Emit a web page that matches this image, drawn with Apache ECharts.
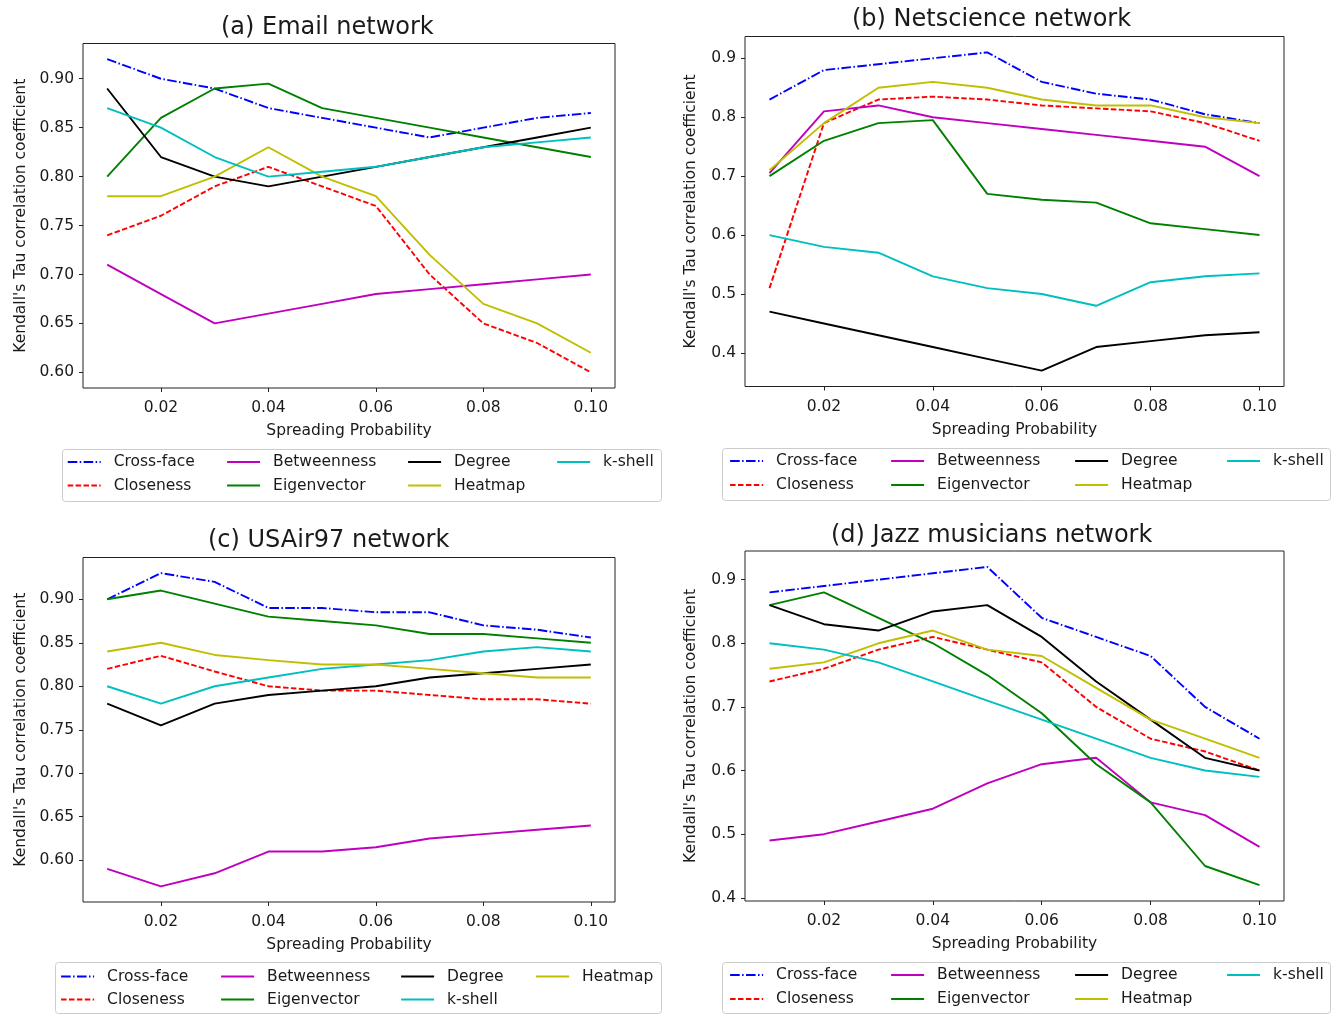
<!DOCTYPE html>
<html>
<head>
<meta charset="utf-8">
<script src="https://cdn.jsdelivr.net/npm/echarts@6/dist/echarts.min.js"></script>
<style>
html,body{margin:0;padding:0;background:#fff;}
#chart{width:1339px;height:1014px;}
</style>
</head>
<body>
<div id="chart"></div>
<script>
// ---------- data ----------
const xValues = [0.01,0.02,0.03,0.04,0.05,0.06,0.07,0.08,0.09,0.10];
const xTicks = [0.02,0.04,0.06,0.08,0.10];
const yTicksEmail = [0.60,0.65,0.70,0.75,0.80,0.85,0.90];
const yTicksNet = [0.4,0.5,0.6,0.7,0.8,0.9];
const yTicksAir = [0.60,0.65,0.70,0.75,0.80,0.85,0.90];
const yTicksJazz = [0.4,0.5,0.6,0.7,0.8,0.9];

const panelTitles = ['(a) Email network','(b) Netscience network','(c) USAir97 network','(d) Jazz musicians network'];
const xAxisName = 'Spreading Probability';
const yAxisName = "Kendall's Tau correlation coefficient";

// (a) Email network
const emailCrossFace   = [0.92,0.90,0.89,0.87,0.86,0.85,0.84,0.85,0.86,0.865];
const emailCloseness   = [0.74,0.76,0.79,0.81,0.79,0.77,0.70,0.65,0.63,0.60];
const emailBetweenness = [0.71,0.68,0.65,0.66,0.67,0.68,0.685,0.69,0.695,0.70];
const emailEigenvector = [0.80,0.86,0.89,0.895,0.87,0.86,0.85,0.84,0.83,0.82];
const emailDegree      = [0.89,0.82,0.80,0.79,0.80,0.81,0.82,0.83,0.84,0.85];
const emailHeatmap     = [0.78,0.78,0.80,0.83,0.80,0.78,0.72,0.67,0.65,0.62];
const emailKshell      = [0.87,0.85,0.82,0.80,0.805,0.81,0.82,0.83,0.835,0.84];

// (b) Netscience network
const netCrossFace   = [0.83,0.88,0.89,0.90,0.91,0.86,0.84,0.83,0.805,0.79];
const netCloseness   = [0.51,0.79,0.83,0.835,0.83,0.82,0.815,0.81,0.79,0.76];
const netBetweenness = [0.705,0.81,0.82,0.80,0.79,0.78,0.77,0.76,0.75,0.70];
const netEigenvector = [0.70,0.76,0.79,0.795,0.67,0.66,0.655,0.62,0.61,0.60];
const netDegree      = [0.47,0.45,0.43,0.41,0.39,0.37,0.41,0.42,0.43,0.435];
const netHeatmap     = [0.71,0.79,0.85,0.86,0.85,0.83,0.82,0.82,0.80,0.79];
const netKshell      = [0.60,0.58,0.57,0.53,0.51,0.50,0.48,0.52,0.53,0.535];

// (c) USAir97 network
const airCrossFace   = [0.90,0.93,0.92,0.89,0.89,0.885,0.885,0.87,0.865,0.856];
const airCloseness   = [0.82,0.835,0.817,0.80,0.795,0.795,0.79,0.785,0.785,0.78];
const airBetweenness = [0.59,0.57,0.585,0.61,0.61,0.615,0.625,0.63,0.635,0.64];
const airEigenvector = [0.90,0.91,0.895,0.88,0.875,0.87,0.86,0.86,0.855,0.85];
const airDegree      = [0.78,0.755,0.78,0.79,0.795,0.80,0.81,0.815,0.82,0.825];
const airKshell      = [0.80,0.78,0.80,0.81,0.82,0.825,0.83,0.84,0.845,0.84];
const airHeatmap     = [0.84,0.85,0.836,0.83,0.825,0.825,0.82,0.815,0.81,0.81];

// (d) Jazz musicians network
const jazzCrossFace   = [0.88,0.89,0.90,0.91,0.92,0.84,0.81,0.78,0.70,0.65];
const jazzCloseness   = [0.74,0.76,0.79,0.81,0.79,0.77,0.70,0.65,0.63,0.60];
const jazzBetweenness = [0.49,0.50,0.52,0.54,0.58,0.61,0.62,0.55,0.53,0.48];
const jazzEigenvector = [0.86,0.88,0.84,0.80,0.75,0.69,0.61,0.55,0.45,0.42];
const jazzDegree      = [0.86,0.83,0.82,0.85,0.86,0.81,0.74,0.68,0.62,0.60];
const jazzHeatmap     = [0.76,0.77,0.80,0.82,0.79,0.78,0.73,0.68,0.65,0.62];
const jazzKshell      = [0.80,0.79,0.77,0.74,0.71,0.68,0.65,0.62,0.60,0.59];

// ---------- styles ----------
const FONT = 'DejaVu Sans';
const TXT = '#1a1a1a';
const styles = {
  'Cross-face':  {color:'#0000ff', type:[9.6,2.4,1.5,2.4]},
  'Closeness':   {color:'#ff0000', type:[5.5,2.4]},
  'Betweenness': {color:'#bf00bf', type:'solid'},
  'Eigenvector': {color:'#008000', type:'solid'},
  'Degree':      {color:'#000000', type:'solid'},
  'Heatmap':     {color:'#bfbf00', type:'solid'},
  'k-shell':     {color:'#00bfbf', type:'solid'}
};

const panels = [
  {grid:{left:83, top:43.5, width:532, height:344.5}, y:[0.584,0.936], yTicks:yTicksEmail, dec:2, nameGapY:54,
   series:[['Cross-face',emailCrossFace],['Closeness',emailCloseness],['Betweenness',emailBetweenness],['Eigenvector',emailEigenvector],['Degree',emailDegree],['Heatmap',emailHeatmap],['k-shell',emailKshell]],
   title:{left:221, top:16},
   legendBox:{x:62, y:449, w:599, h:52},
   legendCols:[66.6,226,407,556], legendRows:[462,485.5],
   legendItems:[['Cross-face','Closeness'],['Betweenness','Eigenvector'],['Degree','Heatmap'],['k-shell']]},
  {grid:{left:745, top:36.5, width:539, height:350}, y:[0.343,0.937], yTicks:yTicksNet, dec:1, nameGapY:46,
   series:[['Cross-face',netCrossFace],['Closeness',netCloseness],['Betweenness',netBetweenness],['Eigenvector',netEigenvector],['Degree',netDegree],['Heatmap',netHeatmap],['k-shell',netKshell]],
   title:{left:852, top:8},
   legendBox:{x:722, y:448, w:608, h:52},
   legendCols:[729,890,1074,1226], legendRows:[461,485],
   legendItems:[['Cross-face','Closeness'],['Betweenness','Eigenvector'],['Degree','Heatmap'],['k-shell']]},
  {grid:{left:83, top:557.5, width:532, height:344.5}, y:[0.552,0.948], yTicks:yTicksAir, dec:2, nameGapY:54,
   series:[['Cross-face',airCrossFace],['Closeness',airCloseness],['Betweenness',airBetweenness],['Eigenvector',airEigenvector],['Degree',airDegree],['k-shell',airKshell],['Heatmap',airHeatmap]],
   title:{left:208, top:529},
   legendBox:{x:55, y:962, w:606, h:51},
   legendCols:[60,220,400,535], legendRows:[976.5,999.5],
   legendItems:[['Cross-face','Closeness'],['Betweenness','Eigenvector'],['Degree','k-shell'],['Heatmap']]},
  {grid:{left:745, top:551, width:539, height:350}, y:[0.395,0.945], yTicks:yTicksJazz, dec:1, nameGapY:46,
   series:[['Cross-face',jazzCrossFace],['Closeness',jazzCloseness],['Betweenness',jazzBetweenness],['Eigenvector',jazzEigenvector],['Degree',jazzDegree],['Heatmap',jazzHeatmap],['k-shell',jazzKshell]],
   title:{left:831, top:524},
   legendBox:{x:722, y:962, w:608, h:51},
   legendCols:[729,890,1074,1226], legendRows:[975,999],
   legendItems:[['Cross-face','Closeness'],['Betweenness','Eigenvector'],['Degree','Heatmap'],['k-shell']]}
];

const option = {
  backgroundColor:'#ffffff',
  animation:false,
  title:[], grid:[], xAxis:[], yAxis:[], series:[], legend:[], graphic:[]
};

panels.forEach((p, i) => {
  option.title.push({
    text: panelTitles[i], left: p.title.left, top: p.title.top, padding: 0,
    textStyle:{fontFamily:FONT, fontSize:24, fontWeight:'normal', color:TXT}
  });
  option.grid.push(Object.assign({show:true, borderColor:'#222', borderWidth:1, backgroundColor:'transparent'}, p.grid));
  option.xAxis.push({
    type:'value', gridIndex:i, min:0.0055, max:0.1045,
    name:xAxisName, nameLocation:'middle', nameGap:35,
    nameTextStyle:{fontFamily:FONT, fontSize:15.5, color:TXT},
    axisLine:{show:false},
    axisTick:{show:true, length:4, customValues:xTicks, lineStyle:{color:'#222'}},
    axisLabel:{customValues:xTicks, margin:12, fontFamily:FONT, fontSize:15.5, color:TXT,
      formatter:v => Number(v).toFixed(2)},
    splitLine:{show:false}
  });
  option.yAxis.push({
    type:'value', gridIndex:i, min:p.y[0], max:p.y[1],
    name:yAxisName, nameLocation:'middle', nameGap:p.nameGapY,
    nameTextStyle:{fontFamily:FONT, fontSize:15.5, color:TXT},
    axisLine:{show:false},
    axisTick:{show:true, length:4, customValues:p.yTicks, lineStyle:{color:'#222'}},
    axisLabel:{customValues:p.yTicks, margin:9, fontFamily:FONT, fontSize:15.5, color:TXT,
      formatter:v => Number(v).toFixed(p.dec)},
    splitLine:{show:false}
  });
  p.series.forEach(([name, vals]) => {
    const st = styles[name];
    option.series.push({
      type:'line', name:name, xAxisIndex:i, yAxisIndex:i,
      data: xValues.map((x, k) => [x, vals[k]]),
      symbol:'none', showSymbol:false, smooth:false,
      color: st.color,
      lineStyle:{color:st.color, width:1.9, type:st.type},
      emphasis:{disabled:true}
    });
  });
  // legend frame
  option.graphic.push({
    type:'rect', shape:{x:p.legendBox.x+0.5, y:p.legendBox.y+0.5, width:p.legendBox.w, height:p.legendBox.h, r:3},
    style:{fill:'#fff', stroke:'#cccccc', lineWidth:1}, z:-1
  });
  // legend items
  p.legendItems.forEach((col, c) => {
    col.forEach((name, r) => {
      option.legend.push({
        data:[name], left:p.legendCols[c], top:p.legendRows[r]-8, padding:0,
        itemWidth:33, itemHeight:14, selectedMode:false,
        itemStyle:{opacity:0, color:'rgba(0,0,0,0)', borderWidth:0},
        lineStyle:{width:2.2},
        textStyle:{fontFamily:FONT, fontSize:15.5, color:TXT, padding:[0,0,0,8]}
      });
    });
  });
});

const chart = echarts.init(document.getElementById('chart'), null, {renderer:'canvas'});
chart.setOption(option);
</script>
</body>
</html>
